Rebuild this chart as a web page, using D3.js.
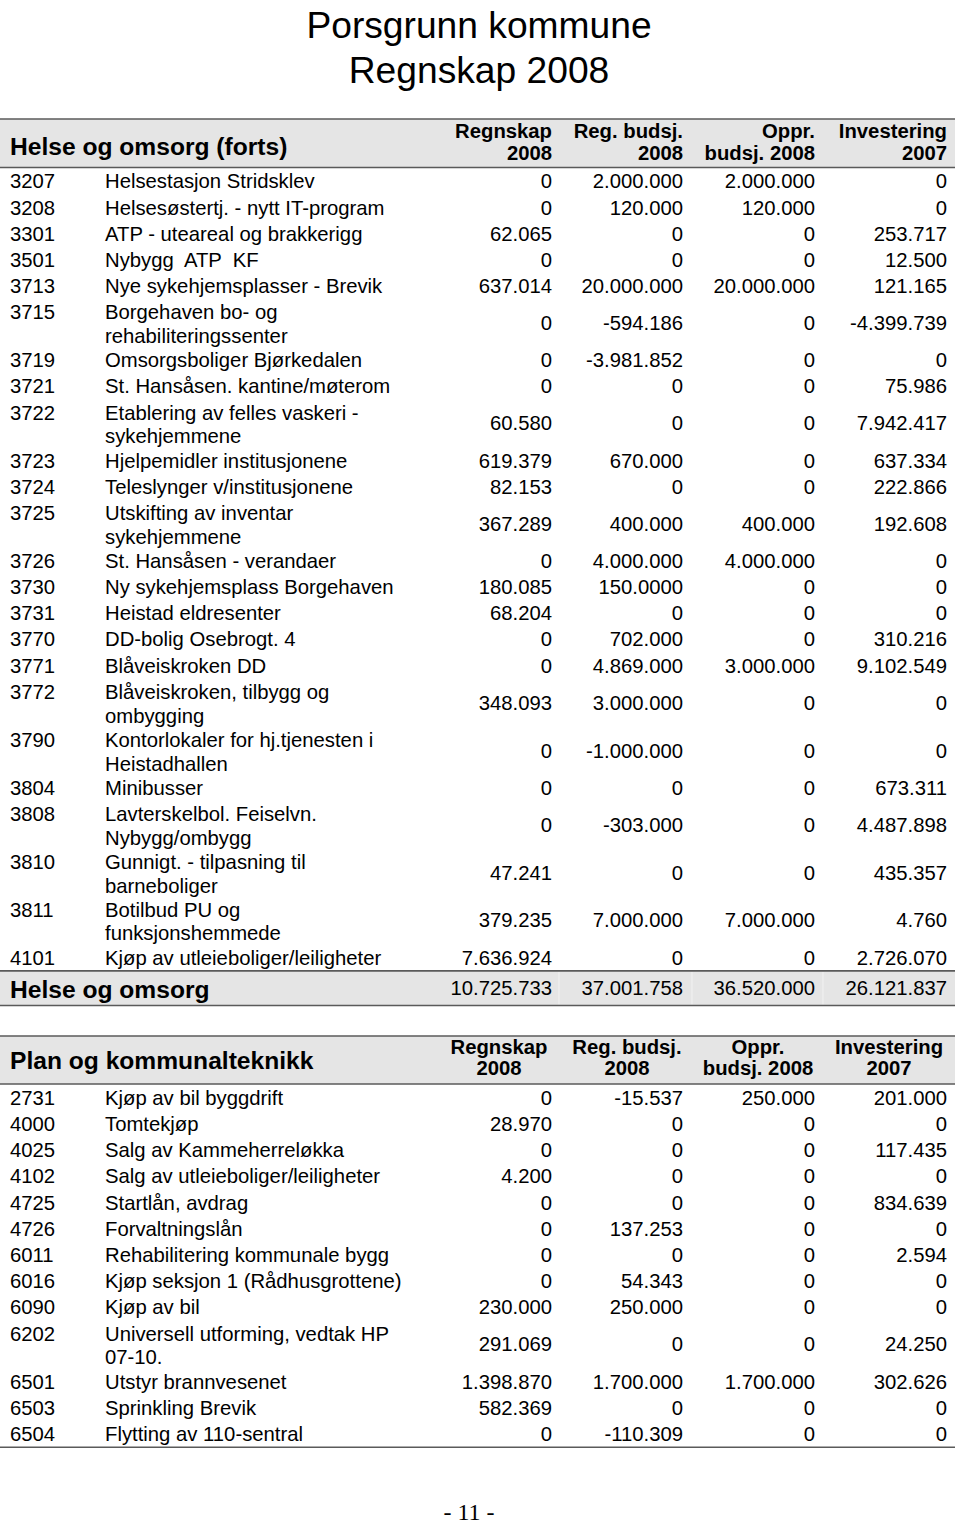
<!DOCTYPE html>
<html>
<head>
<meta charset="utf-8">
<script src="https://cdn.jsdelivr.net/npm/d3@7"></script>
<style>
  html, body { margin: 0; padding: 0; background: #fff; }
  svg { display: block; }
  text { font-family: "Liberation Sans", Arial, sans-serif; fill: #000; }
</style>
</head>
<body>
<svg id="chart" width="960" height="1527"></svg>
<script>
// ---------------- DATA ----------------
const pageTitle = ["Porsgrunn kommune", "Regnskap 2008"];
const columnHeaders = [
  ["Regnskap", "2008"],
  ["Reg. budsj.", "2008"],
  ["Oppr.", "budsj. 2008"],
  ["Investering", "2007"]
];

// Table 1: Helse og omsorg (forts)
const section1Title = "Helse og omsorg (forts)";
const codes1 = ["3207","3208","3301","3501","3713","3715","3719","3721","3722","3723","3724","3725",
  "3726","3730","3731","3770","3771","3772","3790","3804","3808","3810","3811","4101"];
const labels1 = [
  "Helsestasjon Stridsklev",
  "Helsesøstertj. - nytt IT-program",
  "ATP - uteareal og brakkerigg",
  "Nybygg  ATP  KF",
  "Nye sykehjemsplasser - Brevik",
  "Borgehaven bo- og|rehabiliteringssenter",
  "Omsorgsboliger Bjørkedalen",
  "St. Hansåsen. kantine/møterom",
  "Etablering av felles vaskeri -|sykehjemmene",
  "Hjelpemidler institusjonene",
  "Teleslynger v/institusjonene",
  "Utskifting av inventar|sykehjemmene",
  "St. Hansåsen - verandaer",
  "Ny sykehjemsplass Borgehaven",
  "Heistad eldresenter",
  "DD-bolig Osebrogt. 4",
  "Blåveiskroken DD",
  "Blåveiskroken, tilbygg og|ombygging",
  "Kontorlokaler for hj.tjenesten i|Heistadhallen",
  "Minibusser",
  "Lavterskelbol. Feiselvn.|Nybygg/ombygg",
  "Gunnigt. - tilpasning til|barneboliger",
  "Botilbud PU og|funksjonshemmede",
  "Kjøp av utleieboliger/leiligheter"
];
const regnskap1 = ["0","0","62.065","0","637.014","0","0","0","60.580","619.379","82.153","367.289",
  "0","180.085","68.204","0","0","348.093","0","0","0","47.241","379.235","7.636.924"];
const regBudsj1 = ["2.000.000","120.000","0","0","20.000.000","-594.186","-3.981.852","0","0","670.000","0","400.000",
  "4.000.000","150.0000","0","702.000","4.869.000","3.000.000","-1.000.000","0","-303.000","0","7.000.000","0"];
const opprBudsj1 = ["2.000.000","120.000","0","0","20.000.000","0","0","0","0","0","0","400.000",
  "4.000.000","0","0","0","3.000.000","0","0","0","0","0","7.000.000","0"];
const invest1 = ["0","0","253.717","12.500","121.165","-4.399.739","0","75.986","7.942.417","637.334","222.866","192.608",
  "0","0","0","310.216","9.102.549","0","0","673.311","4.487.898","435.357","4.760","2.726.070"];
const total1Label = "Helse og omsorg";
const total1 = ["10.725.733","37.001.758","36.520.000","26.121.837"];

// Table 2: Plan og kommunalteknikk
const section2Title = "Plan og kommunalteknikk";
const codes2 = ["2731","4000","4025","4102","4725","4726","6011","6016","6090","6202","6501","6503","6504"];
const labels2 = [
  "Kjøp av bil byggdrift",
  "Tomtekjøp",
  "Salg av Kammeherreløkka",
  "Salg av utleieboliger/leiligheter",
  "Startlån, avdrag",
  "Forvaltningslån",
  "Rehabilitering kommunale bygg",
  "Kjøp seksjon 1 (Rådhusgrottene)",
  "Kjøp av bil",
  "Universell utforming, vedtak HP|07-10.",
  "Utstyr brannvesenet",
  "Sprinkling Brevik",
  "Flytting av 110-sentral"
];
const regnskap2 = ["0","28.970","0","4.200","0","0","0","0","230.000","291.069","1.398.870","582.369","0"];
const regBudsj2 = ["-15.537","0","0","0","0","137.253","0","54.343","250.000","0","1.700.000","0","-110.309"];
const opprBudsj2 = ["250.000","0","0","0","0","0","0","0","0","0","1.700.000","0","0"];
const invest2 = ["201.000","0","117.435","0","834.639","0","2.594","0","0","24.250","302.626","0","0"];

const pageNumber = "- 11 -";

// ---------------- LAYOUT ----------------
const svg = d3.select("#chart");
const FONT = 20.3;
const lineColor = "#5a5a5a";
const bandFill = "#e5e5e5";
const tableLeft = 0, tableRight = 955;
const codeX = 10, descX = 105;
const colKeys = [0, 1, 2, 3];
const xRight = d3.scaleOrdinal().domain(colKeys).range([552, 683, 815, 947]);
const xCenter = d3.scaleOrdinal().domain(colKeys).range([499, 627, 758, 889]);
const cellBounds = [559, 692, 823];

// title
svg.selectAll("text.title").data(pageTitle).join("text")
  .attr("class", "title")
  .attr("x", 479)
  .attr("y", (d, i) => 38 + i * 45)
  .attr("text-anchor", "middle")
  .style("font-size", "37.2px")
  .text(d => d);

function hline(y) {
  svg.append("line").attr("x1", tableLeft).attr("x2", tableRight)
    .attr("y1", y).attr("y2", y)
    .attr("stroke", lineColor).attr("stroke-width", 1.6);
}

function drawTable(cfg) {
  svg.append("rect").attr("x", tableLeft).attr("y", cfg.headTop)
    .attr("width", tableRight - tableLeft).attr("height", cfg.headBottom - cfg.headTop)
    .attr("fill", bandFill);
  hline(cfg.headTop);
  hline(cfg.headBottom);
  svg.append("text").attr("x", codeX).attr("y", cfg.titleBase)
    .style("font-size", "24.6px").style("font-weight", "bold").text(cfg.title);

  const hg = svg.append("g");
  columnHeaders.forEach((lines, c) => {
    lines.forEach((t, li) => {
      hg.append("text")
        .attr("x", cfg.headAlign === "end" ? xRight(c) : xCenter(c))
        .attr("y", cfg.headBase[li])
        .attr("text-anchor", cfg.headAlign)
        .style("font-size", FONT + "px").style("font-weight", "bold")
        .text(t);
    });
  });

  const rows = cfg.codes.map((code, i) => ({
    code,
    lines: cfg.labels[i].split("|"),
    vals: cfg.values.map(arr => arr[i])
  }));
  const heights = rows.map(r => r.lines.length > 1 ? 47.9 : 26.2);
  const cum = d3.cumsum(heights);
  const yScale = d3.scaleLinear().domain([0, cum[cum.length - 1]])
    .range([cfg.rowsTop, cfg.rowsTop + cum[cum.length - 1]]);
  rows.forEach((r, i) => { r.top = yScale(i === 0 ? 0 : cum[i - 1]); r.h = heights[i]; });

  const g = svg.append("g").style("font-size", FONT + "px");
  const rg = g.selectAll("g.row").data(rows).join("g").attr("class", "row");
  rg.append("text").attr("x", codeX).attr("y", d => d.top + 20.3).text(d => d.code);
  rg.each(function (d) {
    const sel = d3.select(this);
    d.lines.forEach((ln, li) => {
      sel.append("text").attr("x", descX).attr("y", d.top + 20.3 + li * 23.8)
        .style("white-space", "pre").attr("xml:space", "preserve").text(ln);
    });
    d.vals.forEach((v, c) => {
      sel.append("text").attr("x", xRight(c)).attr("y", d.top + d.h / 2 + 7.2)
        .attr("text-anchor", "end").text(v);
    });
  });
  return cfg.rowsTop + cum[cum.length - 1];
}

// Table 1
const end1 = drawTable({
  title: section1Title, headTop: 119, headBottom: 167.5, titleBase: 155,
  headAlign: "end", headBase: [138.3, 160],
  rowsTop: 168, codes: codes1, labels: labels1,
  values: [regnskap1, regBudsj1, opprBudsj1, invest1]
});

// total band
const totTop = end1 + 0.5, totBottom = 1005.5;
svg.append("rect").attr("x", tableLeft).attr("y", totTop)
  .attr("width", tableRight - tableLeft).attr("height", totBottom - totTop).attr("fill", bandFill);
cellBounds.forEach(x => {
  svg.append("line").attr("x1", x).attr("x2", x).attr("y1", totTop + 1).attr("y2", totBottom - 1)
    .attr("stroke", "#f2f2f2").attr("stroke-width", 1);
});
hline(totTop);
hline(totBottom);
svg.append("text").attr("x", codeX).attr("y", 998.3)
  .style("font-size", "24.6px").style("font-weight", "bold").text(total1Label);
svg.selectAll("text.tot").data(total1).join("text").attr("class", "tot")
  .attr("x", (d, i) => xRight(i)).attr("y", 995.2)
  .attr("text-anchor", "end").style("font-size", FONT + "px").text(d => d);

// Table 2
const end2 = drawTable({
  title: section2Title, headTop: 1036, headBottom: 1084, titleBase: 1069.3,
  headAlign: "middle", headBase: [1054, 1075],
  rowsTop: 1084.5, codes: codes2, labels: labels2,
  values: [regnskap2, regBudsj2, opprBudsj2, invest2]
});
hline(end2 + 0.5);

// page number
svg.append("text").attr("x", 469).attr("y", 1520)
  .attr("text-anchor", "middle")
  .style("font-family", "'Liberation Serif', 'Times New Roman', serif")
  .style("font-size", "24px").text(pageNumber);
</script>
</body>
</html>
